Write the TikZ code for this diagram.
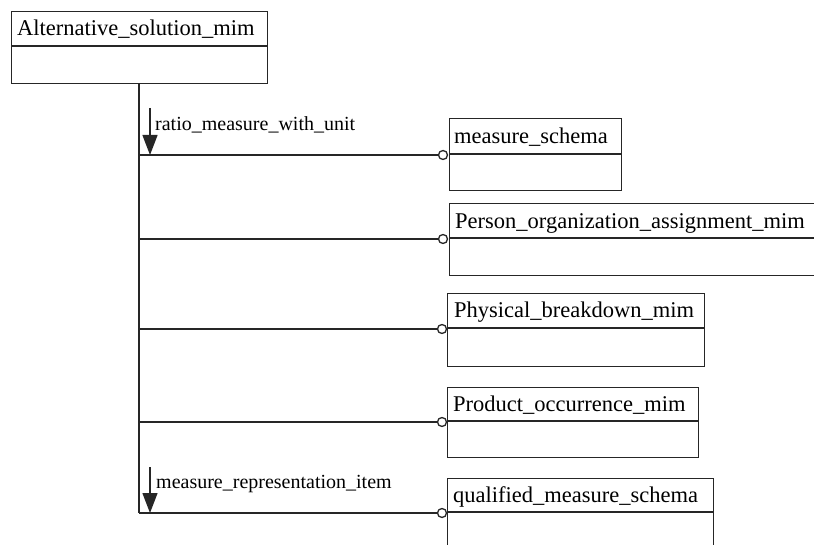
\documentclass[tikz,border=0pt]{standalone}
\usepackage{fontspec}
\setmainfont{Liberation Serif}
\usetikzlibrary{arrows.meta}
\begin{document}
\begin{tikzpicture}[x=1pt,y=-1pt,
  ln/.style={line width=1.3pt, draw=black!85},
  boxn/.style={ln, rectangle, inner sep=0pt, anchor=north west},
  hdr/.style={anchor=base west, inner sep=0pt, font=\fontsize{22.5}{22.5}\selectfont},
  lab/.style={anchor=base west, inner sep=0pt, font=\fontsize{20}{20}\selectfont},
  circ/.style={ln, circle, fill=white, inner sep=0pt, minimum size=9pt},
  arr/.style={ln, -{Triangle[width=15pt,length=20pt]}}]
\useasboundingbox (0,0) rectangle (814,545);
\clip (0,0) rectangle (814,545);

% main box
\node[boxn, minimum width=256pt, minimum height=72pt] (alt) at (11,11) {};
\draw[ln] (11,46) -- (267,46);
\node[hdr] (altt) at (17,36) {Alternative\_solution\_mim};

% target boxes
\node[boxn, minimum width=172pt, minimum height=72pt] (b1) at (449,118) {};
\draw[ln] (449,154) -- (621,154);
\node[hdr] (b1t) at (454,144) {measure\_schema};

\node[boxn, minimum width=380pt, minimum height=72pt] (b2) at (449,203) {};
\draw[ln] (449,238) -- (829,238);
\node[hdr] (b2t) at (455,229) {Person\_organization\_assignment\_mim};

\node[boxn, minimum width=257pt, minimum height=73pt] (b3) at (447,293) {};
\draw[ln] (447,328) -- (704,328);
\node[hdr] (b3t) at (454,318) {Physical\_breakdown\_mim};

\node[boxn, minimum width=251pt, minimum height=70pt] (b4) at (447,387) {};
\draw[ln] (447,421) -- (698,421);
\node[hdr] (b4t) at (453,411) {Product\_occurrence\_mim};

\node[boxn, minimum width=266pt, minimum height=90pt] (b5) at (447,478) {};
\draw[ln] (447,512) -- (713,512);
\node[hdr] (b5t) at (453,502) {qualified\_measure\_schema};

% circles
\node[circ] (c1) at (443,155) {};
\node[circ] (c2) at (443,239) {};
\node[circ] (c3) at (442,329) {};
\node[circ] (c4) at (442,422) {};
\node[circ] (c5) at (442,513) {};

% trunk
\coordinate (tr) at (139,83);
\draw[ln] (tr) -- (tr |- c5);
\foreach \c in {c1,c2,c3,c4,c5} \draw[ln] (tr |- \c) -- (\c);

% arrows and labels
\coordinate (a1) at (150,108);
\draw[arr] (a1) -- (a1 |- c1);
\node[lab] (l1) at (155,131) {ratio\_measure\_with\_unit};
\coordinate (a2) at (150,467);
\draw[arr] (a2) -- (a2 |- c5);
\node[lab] (l2) at (156,488) {measure\_representation\_item};
\end{tikzpicture}
\end{document}
